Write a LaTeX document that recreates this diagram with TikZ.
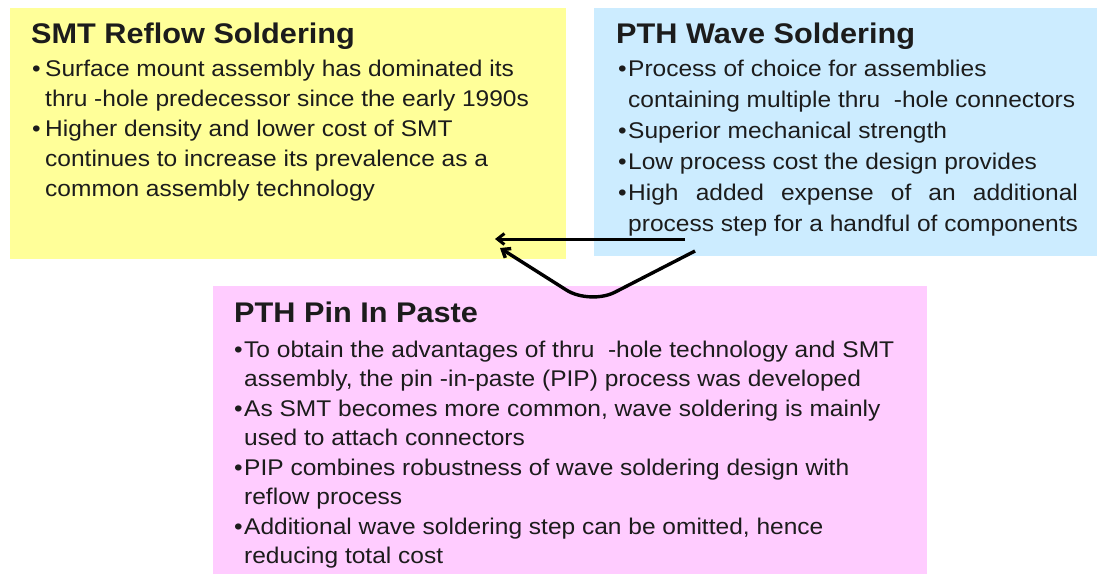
\documentclass[tikz,border=0pt]{standalone}
\usepackage{fontspec}
\setmainfont{Liberation Sans}[FakeStretch=1.08]
\usetikzlibrary{arrows.meta}
\definecolor{boxyellow}{HTML}{FFFF99}
\definecolor{boxblue}{HTML}{CCECFF}
\definecolor{boxpink}{HTML}{FFCCFF}
\definecolor{txt}{HTML}{1C1C1C}
\newlength\justw
\newcommand\bul[1]{\makebox[#1][l]{\textbullet}}
\begin{document}
\begin{tikzpicture}[x=1pt,y=-1pt,
  panel/.style={draw=none, inner sep=0pt, anchor=north west},
  headline/.style={anchor=base west, inner sep=0pt, text=txt, font=\fontsize{28.4}{30}\selectfont\bfseries},
  bodytext/.style={anchor=base west, inner sep=0pt, text=txt},
  conn/.style={line width=3pt, -{Straight Barb[length=7pt,width=11pt]}}]
\useasboundingbox (0,0) rectangle (1097,574);
% panels
\node[panel, fill=boxyellow, minimum width=556pt, minimum height=251pt] (smt) at (10,8) {};
\node[panel, fill=boxblue, minimum width=503pt, minimum height=248pt] (wave) at (594,8) {};
\node[panel, fill=boxpink, minimum width=714pt, minimum height=288pt] (pip) at (213,286) {};
% SMT reflow
\node[headline] (smttitle) at (31,43) {SMT Reflow Soldering};
\node[bodytext] (smtbody) at (32,76) {\fontsize{22.7}{30}\selectfont
\begin{tabular}[t]{@{}l@{}l@{}}
\bul{13pt} & Surface mount assembly has dominated its\\
 & thru -hole predecessor since the early 1990s\\
\bul{13pt} & Higher density and lower cost of SMT\\
 & continues to increase its prevalence as a\\
 & common assembly technology
\end{tabular}};
% PTH wave
\node[headline] (wavetitle) at (616,43) {PTH Wave Soldering};
\node[bodytext] (wavebody) at (618,76) {\fontsize{22.7}{31}\selectfont
\settowidth{\justw}{process step for a handful of components}%
\begin{tabular}[t]{@{}l@{}l@{}}
\bul{10pt} & Process of choice for assemblies\\
 & containing multiple thru \ -hole connectors\\
\bul{10pt} & Superior mechanical strength\\
\bul{10pt} & Low process cost the design provides\\
\bul{10pt} & \makebox[\justw][s]{High added expense of an additional}\\
 & process step for a handful of components
\end{tabular}};
% PTH pin in paste
\node[headline] (piptitle) at (234,322) {PTH Pin In Paste};
\node[bodytext] (pipbody) at (234,357) {\fontsize{22.7}{29.5}\selectfont
\begin{tabular}[t]{@{}l@{}l@{}}
\bul{10pt} & To obtain the advantages of thru \ -hole technology and SMT\\
 & assembly, the pin -in-paste (PIP) process was developed\\
\bul{10pt} & As SMT becomes more common, wave soldering is mainly\\
 & used to attach connectors\\
\bul{10pt} & PIP combines robustness of wave soldering design with\\
 & reflow process\\
\bul{10pt} & Additional wave soldering step can be omitted, hence\\
 & reducing total cost
\end{tabular}};
% connectors
\coordinate (straightstart) at (685,239);
\coordinate (straightend) at (495,239);
\coordinate (curvestart) at (695,251);
\coordinate (curvebottom) at (590,305);
\coordinate (curveend) at (500,248);
\draw[conn] (straightstart) -- (straightend);
\draw[conn, line width=3.4pt, rounded corners=28pt] (curvestart) -- (curvebottom) -- (curveend);
\end{tikzpicture}
\end{document}
